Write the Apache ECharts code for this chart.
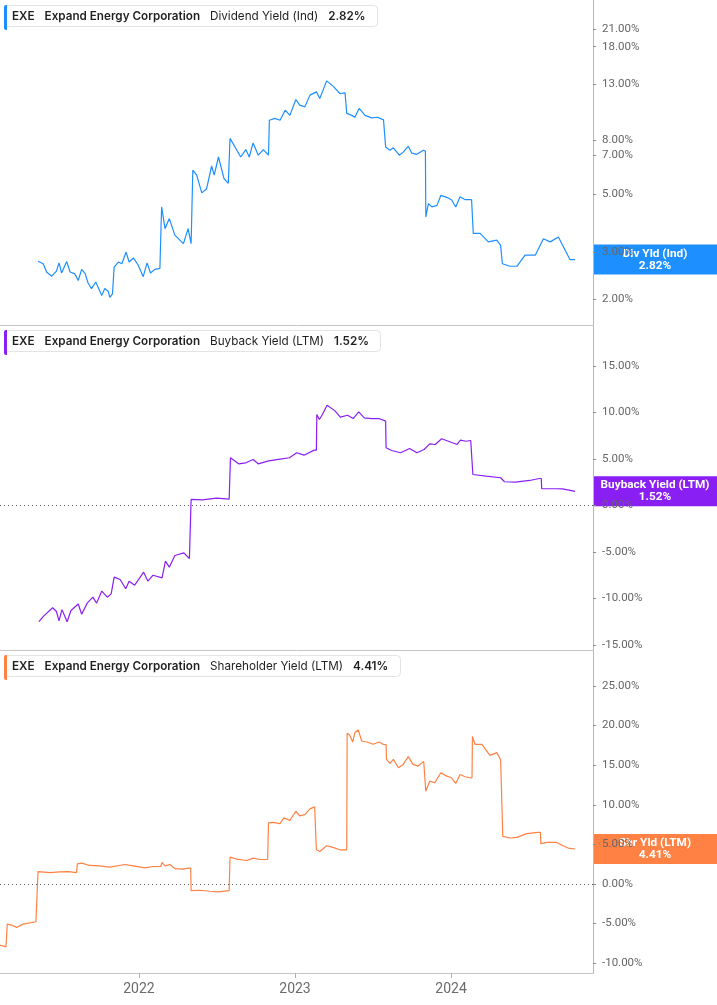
<!DOCTYPE html>
<html><head><meta charset="utf-8">
<script src="https://cdn.jsdelivr.net/npm/echarts@6/dist/echarts.min.js"></script>
<style>html,body{margin:0;padding:0;background:#fff}#c{width:717px;height:1005px}</style>
</head><body><div id="c"></div>
<script>
// ---------------- data ----------------
const divDates = ['2021-05-10','2021-05-22','2021-05-30','2021-06-11','2021-06-22','2021-06-28','2021-07-04','2021-07-16','2021-07-24','2021-08-04','2021-08-12','2021-08-20','2021-08-28','2021-09-04','2021-09-12','2021-09-22','2021-10-06','2021-10-13','2021-10-21','2021-10-25','2021-10-31','2021-11-04','2021-11-14','2021-11-22','2021-12-02','2021-12-09','2021-12-19','2021-12-30','2022-01-11','2022-01-20','2022-01-28','2022-02-07','2022-02-19','2022-02-22','2022-02-23','2022-03-03','2022-03-13','2022-03-26','2022-04-15','2022-04-26','2022-05-03','2022-05-06','2022-05-07','2022-05-16','2022-05-28','2022-06-08','2022-06-20','2022-06-26','2022-07-06','2022-07-19','2022-07-29','2022-08-01','2022-08-02','2022-08-18','2022-08-27','2022-09-08','2022-09-16','2022-09-25','2022-10-07','2022-10-19','2022-10-31','2022-11-01','2022-11-02','2022-11-15','2022-11-27','2022-12-09','2022-12-20','2023-01-03','2023-01-12','2023-01-24','2023-02-05','2023-02-20','2023-02-28','2023-03-16','2023-03-31','2023-04-16','2023-04-28','2023-05-01','2023-05-02','2023-05-14','2023-05-21','2023-05-31','2023-06-14','2023-06-29','2023-07-13','2023-07-27','2023-07-31','2023-08-01','2023-08-11','2023-08-19','2023-09-02','2023-09-11','2023-09-23','2023-10-01','2023-10-13','2023-10-28','2023-11-02','2023-11-03','2023-11-09','2023-11-17','2023-11-29','2023-12-08','2023-12-22','2024-01-02','2024-01-12','2024-01-22','2024-02-03','2024-02-18','2024-02-21','2024-02-22','2024-03-09','2024-03-28','2024-04-17','2024-04-26','2024-04-29','2024-04-30','2024-05-18','2024-06-03','2024-06-22','2024-07-16','2024-08-04','2024-08-20','2024-09-08','2024-09-24','2024-10-05','2024-10-17'];
const divYield = [2.78,2.72,2.53,2.44,2.55,2.74,2.51,2.77,2.53,2.49,2.35,2.59,2.50,2.30,2.19,2.32,2.06,2.19,2.14,2.03,2.09,2.64,2.76,2.72,3.01,2.76,2.86,2.69,2.43,2.74,2.51,2.59,2.61,2.62,4.46,3.69,4.03,3.49,3.24,3.69,3.24,3.22,6.14,5.88,5.04,5.21,6.37,5.88,6.89,5.71,5.48,5.50,8.10,7.31,6.89,7.35,6.89,7.79,7.00,7.35,7.00,7.02,9.49,9.64,9.49,10.36,9.90,11.37,10.82,10.66,11.81,12.15,11.46,13.37,12.77,11.98,12.05,12.00,10.07,9.90,9.74,10.52,9.90,9.69,9.74,9.52,9.50,7.52,7.31,7.46,7.00,7.19,7.57,7.13,7.05,7.31,7.25,4.09,4.59,4.46,4.52,4.93,4.85,4.75,4.46,4.87,4.75,4.75,4.75,3.54,3.54,3.29,3.34,3.19,3.15,2.72,2.66,2.66,2.93,2.93,3.38,3.29,3.43,3.06,2.82,2.82];

const buyDates = ['2021-05-12','2021-05-23','2021-06-13','2021-06-22','2021-06-28','2021-07-05','2021-07-17','2021-07-26','2021-08-12','2021-08-20','2021-09-02','2021-09-15','2021-09-24','2021-10-06','2021-10-19','2021-10-28','2021-11-04','2021-11-18','2021-12-01','2021-12-09','2021-12-22','2022-01-12','2022-01-22','2022-02-03','2022-02-24','2022-03-04','2022-03-13','2022-03-26','2022-04-16','2022-04-29','2022-05-02','2022-05-03','2022-05-29','2022-07-02','2022-07-31','2022-08-02','2022-08-03','2022-08-22','2022-09-08','2022-09-25','2022-10-07','2022-10-29','2022-11-23','2022-12-19','2023-01-05','2023-01-22','2023-02-15','2023-02-20','2023-02-21','2023-02-27','2023-03-06','2023-03-17','2023-04-04','2023-04-17','2023-05-04','2023-05-17','2023-05-30','2023-06-12','2023-06-29','2023-07-16','2023-08-01','2023-08-02','2023-08-15','2023-09-05','2023-09-26','2023-10-13','2023-10-30','2023-11-12','2023-11-25','2023-12-10','2023-12-29','2024-01-15','2024-01-23','2024-02-05','2024-02-16','2024-02-20','2024-02-21','2024-03-23','2024-04-26','2024-05-05','2024-05-30','2024-07-03','2024-07-25','2024-07-30','2024-07-31','2024-09-01','2024-09-18','2024-10-17'];
const buyYield = [-12.5,-11.9,-11.0,-11.4,-12.4,-11.2,-12.5,-11.3,-10.6,-11.7,-10.5,-9.86,-10.5,-9.2,-9.86,-9.5,-7.7,-7.96,-8.96,-8.14,-8.57,-7.17,-8.14,-7.5,-7.78,-5.99,-6.63,-5.38,-5.09,-5.7,-5.6,0.65,0.61,0.79,0.68,0.70,5.13,4.48,4.59,4.95,4.48,4.77,4.95,5.13,5.67,5.41,5.95,5.95,9.78,9.25,9.78,10.78,10.2,9.5,9.7,9.35,10.07,9.43,9.35,9.35,9.07,6.2,5.91,5.67,6.13,5.67,6.02,6.63,6.56,7.17,6.85,6.56,7.02,6.91,6.99,6.95,3.33,3.15,2.98,2.55,2.51,2.69,2.9,2.9,1.80,1.8,1.78,1.52];

const shrDates = ['2021-02-10','2021-02-24','2021-02-26','2021-02-27','2021-03-09','2021-03-21','2021-04-05','2021-05-05','2021-05-09','2021-05-10','2021-06-07','2021-06-30','2021-07-20','2021-08-08','2021-08-10','2021-08-20','2021-09-08','2021-10-01','2021-10-25','2021-11-29','2021-12-19','2022-01-15','2022-02-03','2022-02-21','2022-02-24','2022-03-03','2022-03-14','2022-03-26','2022-04-15','2022-04-26','2022-05-02','2022-05-03','2022-05-23','2022-06-16','2022-07-05','2022-07-31','2022-08-02','2022-08-18','2022-09-10','2022-09-25','2022-10-11','2022-10-29','2022-10-31','2022-11-11','2022-11-27','2022-12-06','2022-12-20','2023-01-03','2023-01-12','2023-01-24','2023-02-05','2023-02-16','2023-02-20','2023-02-28','2023-03-16','2023-03-31','2023-04-16','2023-05-02','2023-05-03','2023-05-09','2023-05-16','2023-05-21','2023-05-29','2023-06-06','2023-06-18','2023-07-03','2023-07-17','2023-07-26','2023-08-02','2023-08-03','2023-08-11','2023-08-19','2023-08-31','2023-09-11','2023-09-23','2023-10-04','2023-10-16','2023-10-29','2023-11-02','2023-11-03','2023-11-12','2023-11-24','2023-12-08','2023-12-22','2024-01-02','2024-01-12','2024-01-22','2024-02-03','2024-02-14','2024-02-19','2024-02-20','2024-02-26','2024-03-13','2024-04-01','2024-04-17','2024-04-26','2024-04-30','2024-05-01','2024-05-18','2024-06-03','2024-06-26','2024-07-23','2024-07-28','2024-07-29','2024-08-12','2024-09-04','2024-09-19','2024-10-01','2024-10-17'];
const shrYield = [-7.74,-7.95,-7.9,-5.08,-5.2,-5.5,-5.08,-4.78,-4.7,1.56,1.43,1.52,1.56,1.43,2.54,2.62,2.33,2.28,2.11,2.45,2.28,2.03,2.2,2.2,2.71,2.28,2.45,1.94,1.86,1.99,1.99,-0.85,-0.8,-0.93,-1.02,-0.85,3.38,3.13,2.96,3.26,3.08,3.08,7.7,7.78,7.61,8.34,8.03,9.18,8.6,8.76,9.48,9.73,4.31,4.1,4.82,4.61,4.31,4.3,19.04,18.78,17.93,19.12,19.45,18.06,17.93,17.64,17.93,17.64,17.6,15.74,15.23,15.74,14.68,15.1,16.08,15.1,14.89,15.48,15.4,11.71,12.98,12.78,14.05,13.62,13.41,12.69,13.83,13.54,13.41,13.4,18.62,17.64,17.64,16.24,16.59,15.65,15.5,6.0,5.8,5.88,6.35,6.51,6.5,5.08,5.24,5.24,4.82,4.53,4.41];

const divTicks = [2, 3, 5, 7, 8, 13, 18, 21];
const buyTicks = [-15, -10, -5, 0, 5, 10, 15];
const shrTicks = [-10, -5, 0, 5, 10, 15, 20, 25];
const yearTicks = ['2022-01-01', '2023-01-01', '2024-01-01'];
const xMin = '2021-02-10', xMax = '2024-11-28';

const panels = [
  {metric: 'Dividend Yield (Ind)', short: 'Div Yld (Ind)', color: '#1e8fff'},
  {metric: 'Buyback Yield (LTM)', short: 'Buyback Yield (LTM)', color: '#8a1ff4'},
  {metric: 'Shareholder Yield (LTM)', short: 'Shr Yld (LTM)', color: '#ff8244'}
];
// ---------------- chart ----------------
const FONT = 'Roboto, "Noto Sans", sans-serif';
const HFONT = 'Inter, Roboto, sans-serif';
const ts = s => Date.parse(s + 'T00:00:00Z');
const pct = v => (Math.round(v * 100) / 100).toFixed(2) + '%';
const zip = (d, v) => d.map((x, i) => [ts(x), v[i]]);
const lastOf = a => a[a.length - 1];
const values = [divYield, buyYield, shrYield];
const dates = [divDates, buyDates, shrDates];

const grids = [
  {left: 0, right: 124, top: 0, height: 325},
  {left: 0, right: 124, top: 326, height: 324},
  {left: 0, right: 124, top: 651, height: 322}
].map(g => Object.assign(g, {containLabel: false}));

const yearVals = yearTicks.map(ts);
const xAxes = [0, 1, 2].map(i => ({
  type: 'value', gridIndex: i, min: ts(xMin), max: ts(xMax),
  axisLine: {show: true, onZero: false, lineStyle: {color: '#c4c4c4', width: 1}},
  axisTick: {show: i === 2, customValues: yearVals, length: 5, lineStyle: {color: '#b0b0b0'}},
  axisLabel: {show: i === 2, customValues: yearVals, formatter: v => String(new Date(v).getUTCFullYear()),
    color: '#6b6b6b', fontSize: 14, fontFamily: FONT, margin: 9},
  splitLine: {show: false}
}));

function yAx(i, type, min, max, ticks) {
  const o = {
    type, gridIndex: i, position: 'right', min, max, z: 10,
    axisLine: {show: true, lineStyle: {color: '#b8b8b8', width: 1}},
    axisTick: {show: true, customValues: ticks, length: 3, lineStyle: {color: '#8a8a8a'}},
    axisLabel: {customValues: ticks, formatter: v => pct(v), color: '#666', fontSize: 11.5, fontFamily: FONT, margin: 9},
    splitLine: {show: false}, splitArea: {show: false}
  };
  if (type === 'log') o.logBase = 10;
  return o;
}
const yAxes = [
  yAx(0, 'log', 1.595, 27.04, divTicks),
  yAx(1, 'value', -15.54, 19.30, buyTicks),
  yAx(2, 'value', -11.26, 29.43, shrTicks)
];

const series = panels.map((p, i) => {
  const last = lastOf(values[i]);
  const ml = [{
    yAxis: last,
    lineStyle: {color: 'rgba(0,0,0,0)', width: 1, type: 'solid'},
    label: {
      show: true, position: 'end', distance: 0, opacity: 1,
      formatter: '{a|' + p.short + '}\n{a|' + pct(last) + '}',
      backgroundColor: p.color, padding: [3, 0, 3, 0],
      rich: {a: {width: 124, align: 'center', color: '#fff', fontWeight: 'bold', fontSize: 11.8, lineHeight: 12, fontFamily: FONT}}
    }
  }];
  if (i > 0) ml.push({yAxis: 0, lineStyle: {color: '#555', width: 1, type: [1, 3]}, label: {show: false}});
  return {
    type: 'line', xAxisIndex: i, yAxisIndex: i, data: zip(dates[i], values[i]),
    showSymbol: false, symbol: 'none', lineStyle: {color: p.color, width: 1.2}, itemStyle: {color: p.color},
    silent: true, z: 3, clip: false,
    markLine: {silent: true, symbol: 'none', animation: false, precision: 2, data: ml}
  };
});

const tops = [4, 329, 654];
const HS = 11.7;
const titles = panels.map((p, i) => ({
  left: 4, top: tops[i],
  text: '{b|EXE}{b|Expand Energy Corporation}{n|' + p.metric + '}{v|' + pct(lastOf(values[i])) + '}',
  backgroundColor: '#fff', borderColor: '#e3e3e3', borderWidth: 1, borderRadius: 4,
  padding: [5, 12, 5, 8],
  textStyle: {
    rich: {
      b: {fontWeight: 600, fontSize: HS, color: '#1f1f1f', fontFamily: HFONT, lineHeight: 14, padding: [0, 10, 0, 0]},
      n: {fontWeight: 400, fontSize: HS, color: '#1f1f1f', fontFamily: HFONT, lineHeight: 14, padding: [0, 10, 0, 0]},
      v: {fontWeight: 600, fontSize: HS, color: '#1f1f1f', fontFamily: HFONT, lineHeight: 14}
    }
  }
}));
const graphics = panels.map((p, i) => ({
  type: 'rect', left: 4, top: tops[i] + 1, z: 100,
  shape: {width: 3, height: 25, r: [2, 0, 0, 2]}, style: {fill: p.color}
}));

const chart = echarts.init(document.getElementById('c'), null, {renderer: 'canvas'});
chart.setOption({
  animation: false, backgroundColor: '#fff',
  title: titles, graphic: graphics,
  grid: grids, xAxis: xAxes, yAxis: yAxes, series
});
</script></body></html>
